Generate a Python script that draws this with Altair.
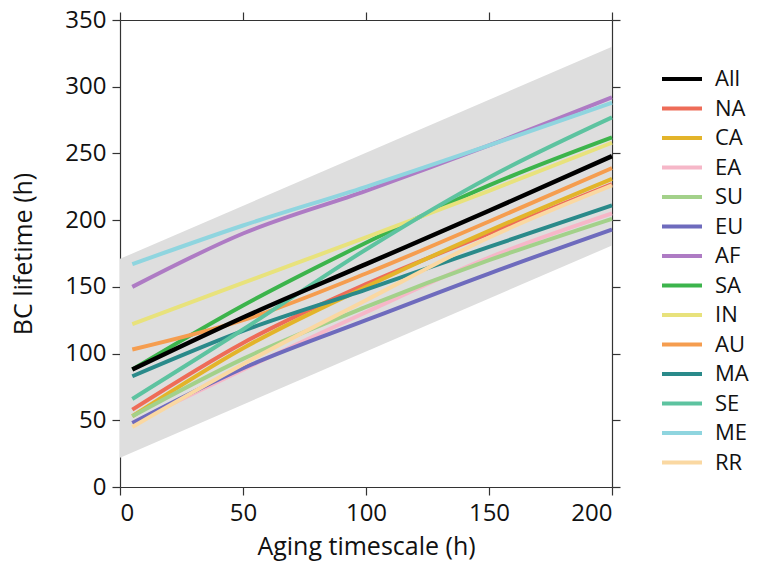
import altair as alt
import pandas as pd

x_points = [5, 50, 100, 150, 200]
regions = ["All", "NA", "CA", "EA", "SU", "EU", "AF", "SA", "IN", "AU", "MA", "SE", "ME", "RR"]
colors = ["#000000", "#ee6c58", "#e3b42a", "#f6b7c8", "#a3d18a", "#6e6bbd", "#ae7bc4",
          "#3cb44c", "#e8e27c", "#f59d4f", "#2a8a8a", "#5dc3a0", "#8fd5df", "#fad8a2"]
values = {
    "All": [88, 127, 167, 207, 248],
    "NA": [58, 108, 152, 190, 227],
    "CA": [53, 104, 150, 192, 231],
    "EA": [48, 88, 131, 172, 205],
    "SU": [53, 96, 135, 170, 201],
    "EU": [48, 89, 125, 160, 193],
    "AF": [150, 190, 222, 256, 292],
    "SA": [88, 136, 183, 226, 262],
    "IN": [122, 153, 187, 222, 258],
    "AU": [103, 125, 160, 199, 239],
    "MA": [83, 117, 148, 180, 211],
    "SE": [66, 118, 178, 232, 277],
    "ME": [167, 196, 225, 256, 288],
    "RR": [45, 92, 140, 187, 226],
}
band_x = [0, 200]
band_lo = [22, 181]
band_hi = [171, 330]

rows = []
for r in regions:
    for xv, yv in zip(x_points, values[r]):
        rows.append({"x": xv, "y": yv, "region": r})
df = pd.DataFrame(rows)
band = pd.DataFrame({"x": band_x, "lo": band_lo, "hi": band_hi})

FONT = "Open Sans"
xscale = alt.Scale(domain=[0, 200], nice=False)
yscale = alt.Scale(domain=[0, 350], nice=False)
cscale = alt.Scale(domain=regions, range=colors)
xticks = [0, 50, 100, 150, 200]
yticks = [0, 50, 100, 150, 200, 250, 300, 350]

axis_common = dict(domainColor="#333", tickColor="#333", tickSize=8, tickWidth=1.2,
                   domainWidth=1.2, grid=False, labelFont=FONT, titleFont=FONT,
                   labelFontSize=24, titleFontSize=25, labelColor="#111", titleColor="#111",
                   titleFontWeight="normal", labelPadding=6)

xb = alt.X("x:Q", scale=xscale, axis=alt.Axis(values=xticks, title="Aging timescale (h)",
                                              titlePadding=9, **axis_common))
yl = alt.Y("y:Q", scale=yscale, axis=alt.Axis(values=yticks, title="BC lifetime (h)",
                                              titlePadding=28, **axis_common))

area = alt.Chart(band).mark_area(color="#dedede", opacity=1).encode(
    x=alt.X("x:Q", scale=xscale, axis=alt.Axis(orient="top", labels=False, title=None,
                                                values=xticks, **axis_common)),
    y=alt.Y("lo:Q", scale=yscale, axis=alt.Axis(orient="right", labels=False, title=None,
                                                 values=yticks, **axis_common)),
    y2="hi:Q",
)

legend = alt.Legend(title=None, orient="none", legendX=550, legendY=47, symbolType="M-2,0L2,0",
                    symbolSize=400, symbolStrokeWidth=4, labelFont=FONT, labelFontSize=22,
                    labelColor="#111", rowPadding=6.5, labelOffset=21, values=regions)

reg_lines = alt.Chart(df[df.region != "All"]).mark_line(strokeWidth=4, interpolate="monotone").encode(
    x=xb, y=yl,
    color=alt.Color("region:N", scale=cscale, legend=legend),
)
all_line = alt.Chart(df[df.region == "All"]).mark_line(strokeWidth=4.5, interpolate="monotone").encode(
    x=alt.X("x:Q", scale=xscale, axis=None),
    y=alt.Y("y:Q", scale=yscale, axis=None),
    color=alt.Color("region:N", scale=cscale, legend=legend),
)

chart = alt.layer(area, reg_lines, all_line).resolve_axis(x="independent", y="independent").properties(
    width=492, height=467,
    autosize=alt.AutoSizeParams(type="none"),
    padding={"left": 112, "top": 12, "right": 139, "bottom": 78},
).configure_view(stroke=None)

chart.save("out.html", embed_options={"renderer": "svg", "actions": False})
